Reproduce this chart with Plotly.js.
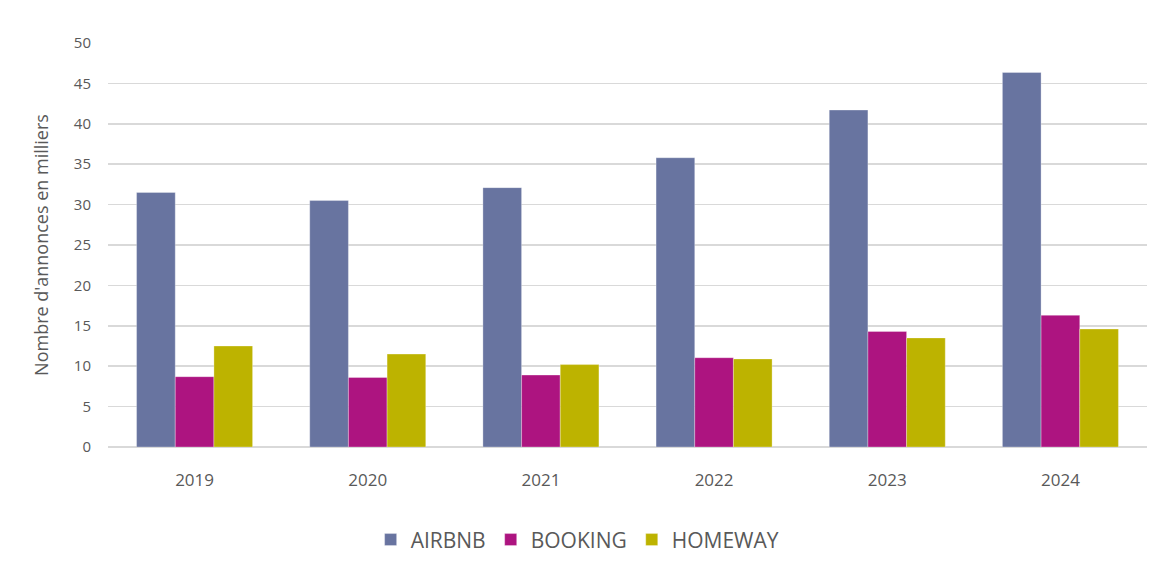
<!DOCTYPE html>
<html>
<head>
<meta charset="utf-8">
<script src="https://cdn.plot.ly/plotly-3.0.1.min.js"></script>
<style>
  html, body { margin: 0; padding: 0; background: #fff; }
  #chart { width: 1173px; height: 573px; }
</style>
</head>
<body>
<div id="chart"></div>
<script>
// data (milliers d'annonces)
const years = ['2019', '2020', '2021', '2022', '2023', '2024'];
const airbnb = [31.5, 30.5, 32.1, 35.8, 41.7, 46.35];
const booking = [8.7, 8.6, 8.9, 11.05, 14.3, 16.3];
const homeway = [12.5, 11.5, 10.2, 10.9, 13.5, 14.6];
const yTicks = [0, 5, 10, 15, 20, 25, 30, 35, 40, 45, 50];

const font = 'Open Sans, Lato, sans-serif';
const grey = '#595959';

function barTrace(name, values, color) {
  return {
    type: 'bar',
    name: name,
    x: years,
    y: values,
    marker: { color: color, line: { color: 'rgba(255,255,255,0.5)', width: 0.6 } },
    hoverinfo: 'x+y+name'
  };
}

const traces = [
  barTrace('AIRBNB', airbnb, '#6874a0'),
  barTrace('BOOKING', booking, '#ad1480'),
  barTrace('HOMEWAY', homeway, '#bdb300')
];

const layout = {
  width: 1173,
  height: 573,
  margin: { l: 108, r: 26, t: 43, b: 126 },
  paper_bgcolor: '#fff',
  plot_bgcolor: '#fff',
  font: { family: font, color: grey, size: 14 },
  barmode: 'group',
  bargap: 0.33,
  bargroupgap: 0,
  showlegend: true,
  legend: {
    orientation: 'h',
    x: 0.452,
    xanchor: 'center',
    y: -0.23,
    yanchor: 'middle',
    font: { size: 21, color: grey, family: font },
    itemwidth: 30,
    tracegroupgap: 0
  },
  xaxis: {
    type: 'category',
    showgrid: false,
    showline: false,
    zeroline: false,
    ticks: '',
    ticklabelstandoff: 21,
    tickfont: { size: 17, color: grey }
  },
  yaxis: {
    range: [0, 50],
    tickvals: yTicks,
    ticktext: yTicks.map(String),
    showgrid: true,
    gridcolor: '#d9d9d9',
    gridwidth: 1.5,
    zeroline: true,
    zerolinecolor: '#d9d9d9',
    zerolinewidth: 1.5,
    showline: false,
    ticks: '',
    ticklabelstandoff: 16,
    tickfont: { size: 15, color: grey },
    title: { text: "Nombre d'annonces en milliers", font: { size: 18, color: grey }, standoff: 20 }
  }
};

Plotly.newPlot('chart', traces, layout, { displayModeBar: false, staticPlot: true });
</script>
</body>
</html>
